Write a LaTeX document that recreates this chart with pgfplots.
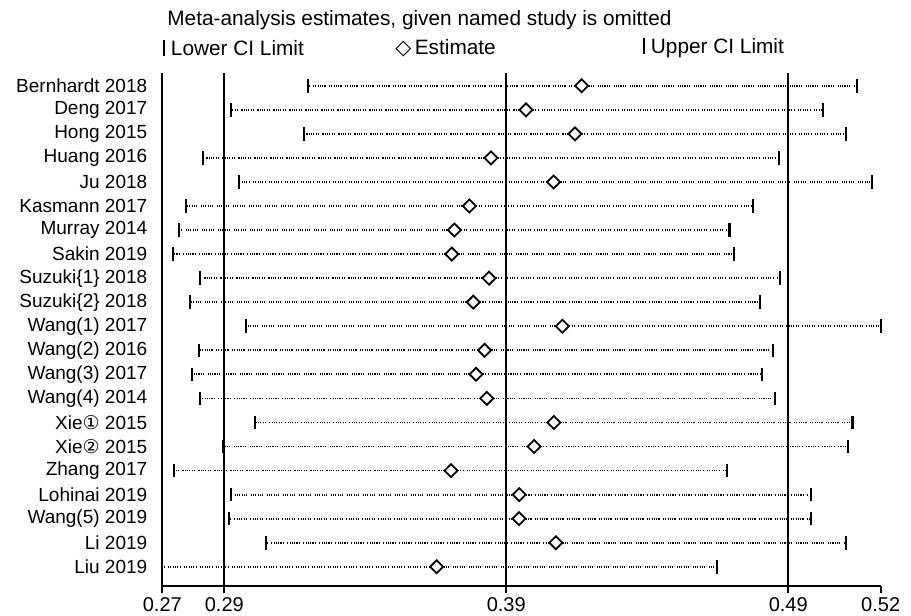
\documentclass[border=0pt]{standalone}
\usepackage{fontspec}
\setmainfont{Liberation Sans}
\newfontfamily\dejavu{DejaVu Sans}
\usepackage{pgfplots}
\usepackage{pgfplotstable}
\pgfplotsset{compat=1.18}

% row, lower CI, estimate, upper CI (study omitted)
\pgfplotstableread{
row lo est hi
1  0.3198 0.4167 0.5144
2  0.2923 0.3970 0.5022
3  0.3183 0.4144 0.5105
4  0.2823 0.3846 0.4868
5  0.2953 0.4068 0.5197
6  0.2763 0.3769 0.4776
7  0.2739 0.3716 0.4692
8  0.2717 0.3707 0.4707
9  0.2814 0.3839 0.4870
10 0.2778 0.3783 0.4800
11 0.2977 0.4099 0.5228
12 0.2810 0.3823 0.4845
13 0.2784 0.3793 0.4806
14 0.2815 0.3831 0.4853
15 0.3009 0.4069 0.5128
16 0.2894 0.3999 0.5113
17 0.2722 0.3704 0.4683
18 0.2923 0.3946 0.4982
19 0.2916 0.3945 0.4981
20 0.3047 0.4076 0.5105
21 0.2680 0.3653 0.4646
}\infdata

\tikzset{statadots/.style={line width=.9pt,
  dash pattern=on .55pt off .6pt on .55pt off .6pt on .55pt off .6pt on .55pt off .6pt on .55pt off .6pt on .55pt off 1.7pt}}

\begin{document}
\begin{tikzpicture}
\begin{axis}[
    at={(0,0)}, anchor=south west,
    scale only axis,
    width=359.2pt, height=256.5pt,
    xmin=0.268, xmax=0.5228,
    ymin=0.47, ymax=21.8,
    y dir=reverse,
    axis x line*=bottom,
    axis y line*=left,
    axis line style={-, line width=1pt},
    xtick={0.268,0.29,0.39,0.49,0.5228},
    xticklabels={0.27,0.29,0.39,0.49,0.52},
    tick align=outside,
    x tick style={line width=1pt, black},
    major tick length=3.5pt,
    ytick={1,...,21},
    y tick style={draw=none},
    yticklabels={Bernhardt 2018, Deng 2017, Hong 2015, Huang 2016, Ju 2018,
      Kasmann 2017, Murray 2014, Sakin 2019, Suzuki\{1\} 2018, Suzuki\{2\} 2018,
      Wang(1) 2017, Wang(2) 2016, Wang(3) 2017, Wang(4) 2014,
      {Xie{\dejavu ①} 2015}, {Xie{\dejavu ②} 2015}, Zhang 2017, Lohinai 2019,
      Wang(5) 2019, Li 2019, Liu 2019},
    yticklabel style={anchor=east, xshift=-0.5pt, font=\fontsize{9.5}{11}\selectfont},
    xticklabel style={inner sep=1pt, yshift=-1pt},
    /pgf/number format/assume math mode=true,
    clip=false,
]
% reference lines: overall lower CI, estimate, upper CI
\addplot[line width=1pt, forget plot] coordinates {(0.29,0.47) (0.29,21.8)};
\addplot[line width=1pt, forget plot] coordinates {(0.39,0.47) (0.39,21.8)};
\addplot[line width=1pt, forget plot] coordinates {(0.49,0.47) (0.49,21.8)};
% dotted CI lines
\addplot[only marks, mark=none, black,
    error bars/.cd, x dir=both, x explicit, error mark=none,
    error bar style={statadots, black}]
    table[x=est, y=row,
      x error minus expr={\thisrow{est}-\thisrow{lo}},
      x error plus expr={\thisrow{hi}-\thisrow{est}}] {\infdata};
% CI ends
\addplot[only marks, mark=|, mark size=3.4pt, mark options={line width=1.1pt, black}]
    table[x=lo, y=row] {\infdata};
\addplot[only marks, mark=|, mark size=3.4pt, mark options={line width=1.1pt, black}]
    table[x=hi, y=row] {\infdata};
% estimates
\addplot[only marks, mark=square*, mark size=2.3pt,
    mark options={rotate=45, line width=.9pt, draw=black, fill=white}]
    table[x=est, y=row] {\infdata};
\end{axis}

\begin{scope}[every node/.style={anchor=west, inner sep=0pt, font=\fontsize{10.4}{12}\selectfont}]
\node at (2.35pt,283pt) {Meta-analysis estimates, given named study is omitted};
\node at (0.35pt,269pt) {\rule{0.9pt}{1.4ex} Lower CI Limit};
\node at (116.35pt,269pt) {{\dejavu ◇}\,Estimate};
\node at (240.35pt,269pt) {\rule{0.9pt}{1.4ex} Upper CI Limit};
\end{scope}

\pgfresetboundingbox
\path[use as bounding box] (-81.15pt,-15pt) rectangle (374.35pt,293pt);
\end{tikzpicture}
\end{document}
